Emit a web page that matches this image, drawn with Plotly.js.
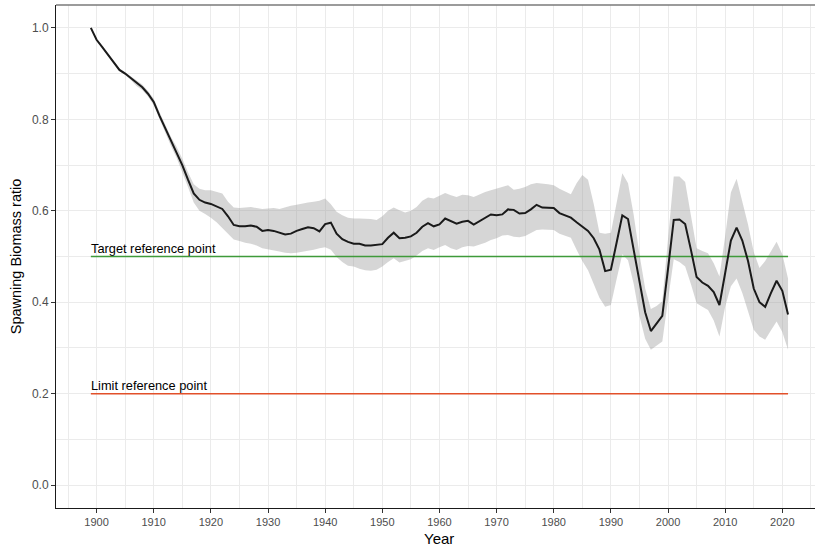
<!DOCTYPE html>
<html>
<head>
<meta charset="utf-8">
<script src="https://cdn.plot.ly/plotly-3.0.1.min.js"></script>
<style>html,body{margin:0;padding:0;background:#fff;}#chart{width:815px;height:547px;}</style>
</head>
<body>
<div id="chart"></div>
<script>
const years = [];
for (let y = 1899; y <= 2021; y++) years.push(y);

const ratio = [
1.000,0.974,0.958,0.942,0.925,0.908,0.900,0.890,0.878,0.870,
0.856,0.838,0.808,0.780,0.752,0.728,0.700,0.668,0.638,0.624,
0.618,0.615,0.610,0.604,0.588,0.569,0.566,0.566,0.568,0.565,
0.556,0.558,0.556,0.552,0.548,0.550,0.556,0.560,0.564,0.562,
0.555,0.571,0.574,0.550,0.538,0.532,0.528,0.528,0.524,0.524,
0.526,0.527,0.541,0.552,0.540,0.541,0.544,0.552,0.565,0.573,
0.566,0.570,0.583,0.578,0.572,0.576,0.578,0.570,0.577,0.585,
0.592,0.590,0.592,0.603,0.602,0.594,0.595,0.603,0.613,0.607,
0.606,0.606,0.595,0.590,0.585,0.575,0.565,0.556,0.540,0.515,
0.468,0.471,0.530,0.590,0.582,0.514,0.446,0.378,0.337,0.353,
0.370,0.473,0.580,0.581,0.571,0.515,0.455,0.443,0.436,0.422,
0.394,0.464,0.535,0.563,0.535,0.490,0.430,0.400,0.390,0.420,
0.447,0.425,0.373
];

const upper = [
1.000,0.976,0.960,0.944,0.927,0.911,0.903,0.894,0.883,0.876,
0.862,0.845,0.816,0.789,0.762,0.740,0.714,0.684,0.658,0.648,
0.645,0.645,0.642,0.638,0.620,0.607,0.606,0.607,0.608,0.606,
0.604,0.605,0.606,0.604,0.608,0.611,0.613,0.616,0.618,0.620,
0.622,0.627,0.614,0.598,0.590,0.585,0.583,0.583,0.583,0.582,
0.580,0.588,0.600,0.607,0.601,0.596,0.600,0.608,0.622,0.629,
0.627,0.633,0.639,0.634,0.630,0.635,0.634,0.630,0.636,0.641,
0.645,0.649,0.652,0.656,0.646,0.648,0.652,0.658,0.661,0.660,
0.658,0.656,0.648,0.642,0.636,0.660,0.678,0.668,0.615,0.552,
0.550,0.552,0.620,0.682,0.660,0.590,0.505,0.430,0.385,0.392,
0.402,0.540,0.675,0.675,0.663,0.590,0.518,0.512,0.507,0.485,
0.456,0.545,0.640,0.670,0.620,0.570,0.510,0.475,0.490,0.510,
0.532,0.505,0.452
];

const lower = [
1.000,0.972,0.956,0.940,0.923,0.905,0.897,0.886,0.873,0.864,
0.850,0.831,0.800,0.771,0.742,0.716,0.686,0.652,0.618,0.600,
0.593,0.585,0.575,0.562,0.548,0.537,0.534,0.530,0.528,0.524,
0.518,0.516,0.514,0.511,0.508,0.507,0.508,0.510,0.512,0.515,
0.518,0.520,0.515,0.499,0.488,0.480,0.478,0.473,0.470,0.469,
0.471,0.478,0.488,0.496,0.487,0.490,0.494,0.502,0.512,0.518,
0.514,0.520,0.525,0.518,0.514,0.520,0.523,0.522,0.526,0.530,
0.536,0.540,0.546,0.547,0.543,0.542,0.545,0.552,0.558,0.559,
0.558,0.558,0.550,0.546,0.541,0.515,0.490,0.470,0.440,0.410,
0.390,0.394,0.450,0.505,0.492,0.440,0.370,0.320,0.296,0.305,
0.314,0.405,0.494,0.488,0.478,0.440,0.398,0.390,0.383,0.360,
0.325,0.390,0.435,0.452,0.420,0.380,0.340,0.325,0.318,0.338,
0.358,0.335,0.296
];

const refYears = [1899, 2021];
const targetRef = [0.5, 0.5];
const limitRef = [0.2, 0.2];
const targetLabel = "Target reference point";
const limitLabel = "Limit reference point";

const traces = [
  {x: years, y: upper, type: 'scatter', mode: 'lines', line: {width: 0, color: 'rgba(0,0,0,0)'}, hoverinfo: 'skip', showlegend: false},
  {x: years, y: lower, type: 'scatter', mode: 'lines', line: {width: 0, color: 'rgba(0,0,0,0)'}, fill: 'tonexty', fillcolor: 'rgba(153,153,153,0.4)', hoverinfo: 'skip', showlegend: false},
  {x: refYears, y: targetRef, type: 'scatter', mode: 'lines', line: {color: '#3f9a3a', width: 1.4}, showlegend: false},
  {x: refYears, y: limitRef, type: 'scatter', mode: 'lines', line: {color: '#e2502a', width: 1.4}, showlegend: false},
  {x: years, y: ratio, type: 'scatter', mode: 'lines', line: {color: '#1a1a1a', width: 2}, showlegend: false}
];

const xTickFont = {family: 'Liberation Sans, Arial, sans-serif', size: 11, color: '#4d4d4d'};
const yTickFont = {family: 'Liberation Sans, Arial, sans-serif', size: 12, color: '#4d4d4d'};
const annFont = {family: 'Liberation Sans, Arial, sans-serif', size: 12.8, color: '#000'};

const layout = {
  width: 815, height: 547,
  margin: {l: 56, r: 0, t: 5, b: 39},
  paper_bgcolor: '#ffffff', plot_bgcolor: '#ffffff',
  showlegend: false,
  xaxis: {
    range: [1892.9, 2025.72], tick0: 1900, dtick: 10,
    showgrid: true, gridcolor: '#ebebeb', gridwidth: 1,
    minor: {dtick: 5, tick0: 1900, showgrid: true, gridcolor: '#ebebeb', gridwidth: 1},
    zeroline: false, showline: true, linecolor: '#1a1a1a', linewidth: 1,
    ticks: 'outside', ticklen: 4, tickcolor: '#333333', tickwidth: 1,
    tickfont: xTickFont
  },
  yaxis: {
    range: [-0.05, 1.05], tick0: 0, dtick: 0.2, tickformat: '.1f',
    showgrid: true, gridcolor: '#ebebeb', gridwidth: 1,
    minor: {dtick: 0.1, tick0: 0, showgrid: true, gridcolor: '#ebebeb', gridwidth: 1},
    zeroline: false, showline: true, linecolor: '#1a1a1a', linewidth: 1,
    ticks: 'outside', ticklen: 4, tickcolor: '#333333', tickwidth: 1,
    tickfont: yTickFont,
    title: {text: 'Spawning Biomass ratio', font: {family: 'Liberation Sans, Arial, sans-serif', size: 14.5, color: '#000'}, standoff: 6}
  },
  shapes: [
    {type: 'line', xref: 'paper', yref: 'paper', x0: 0, x1: 1, y0: 1, y1: 1, line: {color: '#7a7a7a', width: 1.5}}
  ],
  annotations: [
    {x: 1899, y: 0.5, xref: 'x', yref: 'y', text: targetLabel, showarrow: false, xanchor: 'left', yanchor: 'bottom', xshift: -2, yshift: -1, font: annFont},
    {x: 1899, y: 0.2, xref: 'x', yref: 'y', text: limitLabel, showarrow: false, xanchor: 'left', yanchor: 'bottom', xshift: -2, yshift: -1, font: annFont},
    {x: 1960, y: 0, xref: 'x', yref: 'paper', text: 'Year', showarrow: false, xanchor: 'center', yanchor: 'top', yshift: -20, font: {family: 'Liberation Sans, Arial, sans-serif', size: 15, color: '#000'}}
  ]
};

Plotly.newPlot('chart', traces, layout, {displayModeBar: false, staticPlot: true});
</script>
</body>
</html>
